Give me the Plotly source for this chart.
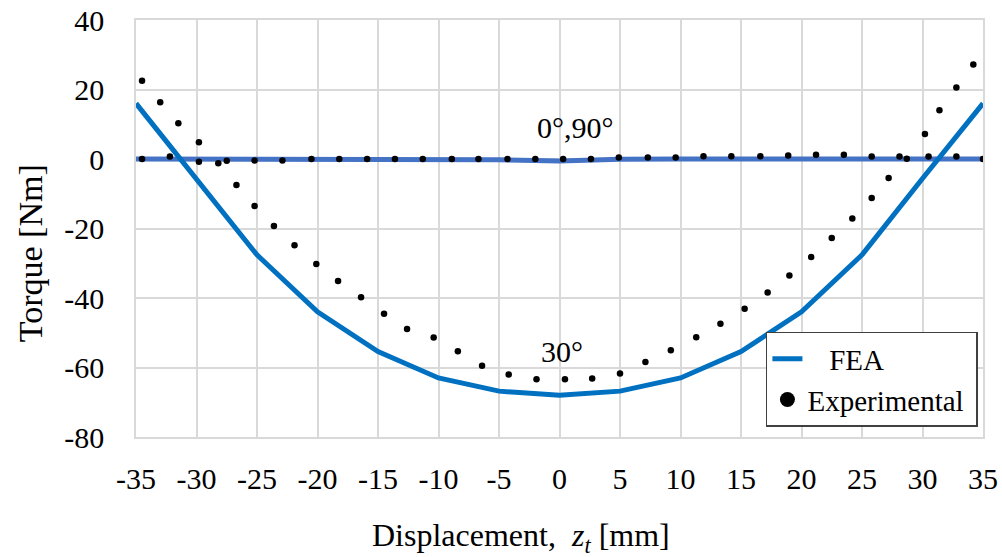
import plotly.graph_objects as go

# FEA results (x every 5 mm)
fea_x = [-35, -30, -25, -20, -15, -10, -5, 0, 5, 10, 15, 20, 25, 30, 35]
fea_30 = [16.0, -5.6, -27.6, -44.0, -55.4, -63.0, -66.8, -68.0, -66.8, -63.0, -55.4, -44.0, -27.6, -5.6, 16.0]
fea_0_90 = [0, 0, 0, 0, 0, 0, -0.2, -0.6, -0.1, 0, 0, 0, 0, 0, 0]

# Experimental, 0 deg / 90 deg
exp0_x = [-34.5, -32.2, -29.8, -27.5, -25.2, -22.9, -20.5, -18.2, -15.9, -13.6, -11.3, -8.9,
          -6.7, -4.3, -2.0, 0.3, 2.6, 4.9, 7.3, 9.6, 11.9, 14.2, 16.6, 18.9, 21.2, 23.5,
          25.8, 28.1, 30.5, 32.8, 35.0]
exp0_y = [0.0, 0.7, -0.8, -0.5, -0.4, -0.4, 0.0, 0.0, 0.0, 0.0, 0.0, 0.0,
          0.0, 0.0, 0.0, 0.0, 0.0, 0.4, 0.4, 0.4, 0.8, 0.8, 0.8, 1.0, 1.2, 1.2,
          0.7, 0.7, 0.7, 0.7, 0.0]

# Experimental, 30 deg
exp30_x = [-34.5, -33.0, -31.5, -29.8, -28.2, -26.7, -25.2, -23.6, -21.9, -20.1, -18.3, -16.4,
           -14.5, -12.6, -10.4, -8.4, -6.4, -4.2, -1.9, 0.45, 2.7, 5.0, 7.1, 9.2, 11.3, 13.3,
           15.3, 17.2, 19.0, 20.8, 22.5, 24.2, 25.8, 27.2, 28.7, 30.2, 31.4, 32.8, 34.2]
exp30_y = [22.5, 16.3, 10.3, 4.8, -1.2, -7.5, -13.5, -19.3, -24.8, -30.2, -35.1, -39.8,
           -44.5, -48.9, -51.4, -55.3, -59.5, -62.0, -63.4, -63.4, -63.2, -61.7, -58.4, -55.0, -51.3, -47.4,
           -43.1, -38.4, -33.5, -28.2, -22.7, -17.1, -11.2, -5.5, 0.1, 7.2, 14.0, 20.6, 27.2]

x_ticks = list(range(-35, 36, 5))
y_ticks = list(range(-80, 41, 20))

FONT = "Liberation Serif, Times New Roman, serif"
GRID = "#D9D9D9"

fig = go.Figure()
fig.add_trace(go.Scatter(x=fea_x, y=fea_0_90, mode="lines", line=dict(color="#4472C4", width=5),
                         showlegend=False))
fig.add_trace(go.Scatter(x=fea_x, y=fea_30, mode="lines", line=dict(color="#0070C0", width=5),
                         showlegend=False))
fig.add_trace(go.Scatter(x=exp0_x, y=exp0_y, mode="markers", marker=dict(color="black", size=6.5),
                         showlegend=False))
fig.add_trace(go.Scatter(x=exp30_x, y=exp30_y, mode="markers", marker=dict(color="black", size=6.5),
                         showlegend=False))
# legend entries
fig.add_trace(go.Scatter(x=[None], y=[None], mode="lines", name="   FEA",
                         line=dict(color="#0070C0", width=5)))
fig.add_trace(go.Scatter(x=[None], y=[None], mode="markers", name="Experimental ",
                         marker=dict(color="black", size=15)))

fig.add_annotation(x=1.3, y=9.0, text="0°,90°", showarrow=False,
                   font=dict(family=FONT, size=30, color="black"))
fig.add_annotation(x=0.2, y=-55.3, text="30°", showarrow=False,
                   font=dict(family=FONT, size=30, color="black"))

# axis titles (placed as in the reference, off-centre)
fig.add_annotation(xref="paper", yref="paper", x=0.4545, y=-0.240, xanchor="center", yanchor="middle",
                   text="Displacement,  <i>z<sub>t</sub></i> [mm]", showarrow=False,
                   font=dict(family=FONT, size=32, color="black"))
fig.add_annotation(xref="paper", yref="paper", x=-0.125, y=0.441, xanchor="center", yanchor="middle",
                   text="Torque [Nm]", textangle=-90, showarrow=False,
                   font=dict(family=FONT, size=34, color="black"))

fig.update_layout(
    width=1002, height=557,
    margin=dict(l=136, r=19, t=20, b=120),
    paper_bgcolor="white", plot_bgcolor="white",
    font=dict(family=FONT, size=30, color="black"),
    legend=dict(x=0.994, y=0.024, xanchor="right", yanchor="bottom",
                bordercolor="#404040", borderwidth=1.5, bgcolor="white",
                font=dict(family=FONT, size=29, color="black"),
                tracegroupgap=0, itemwidth=30),
    xaxis=dict(range=[-35, 35], tickvals=x_ticks, ticktext=[str(v) for v in x_ticks],
               showgrid=True, gridcolor=GRID, gridwidth=1.5, zeroline=False,
               showline=True, linecolor=GRID, linewidth=1.5, mirror=True,
               ticks="", ticklabelstandoff=14, automargin=False,
               tickfont=dict(family=FONT, size=30)),
    yaxis=dict(range=[-80, 40], tickvals=y_ticks, ticktext=[str(v) for v in y_ticks],
               showgrid=True, gridcolor=GRID, gridwidth=1.5, zeroline=False,
               showline=True, linecolor=GRID, linewidth=1.5, mirror=True,
               ticks="", ticklabelstandoff=24, automargin=False,
               tickfont=dict(family=FONT, size=30)),
)

fig.write_html("out.html", config={"displayModeBar": False},
               post_script="document.body.style.margin='0';")
